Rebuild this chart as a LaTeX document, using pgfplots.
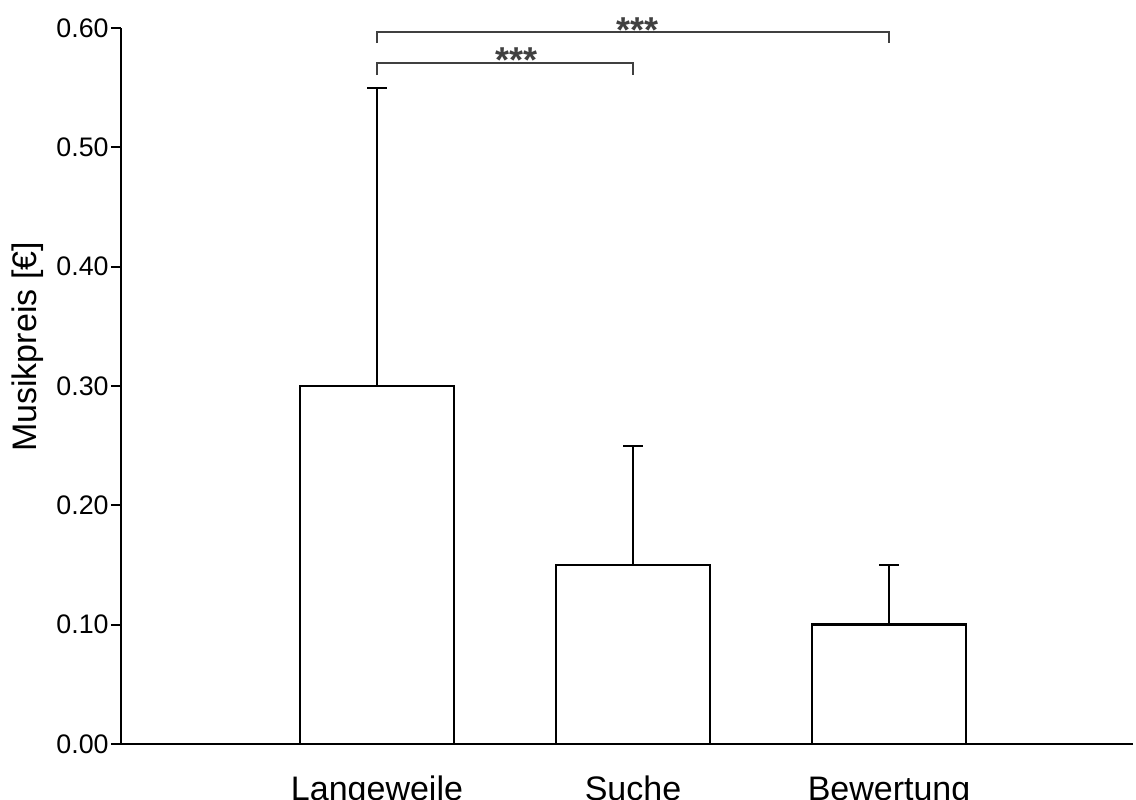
\documentclass[border=0pt]{standalone}
\usepackage{pgfplots}
\pgfplotsset{compat=1.18}
\usepackage{fontspec}
\setmainfont{Liberation Sans}
\definecolor{brk}{HTML}{404040}
\begin{document}
\begin{tikzpicture}
\begin{axis}[
  scale only axis,
  width=506pt, height=358pt,
  xmin=0, xmax=3.953,
  ymin=0, ymax=0.6,
  axis x line=bottom, axis y line=left,
  axis line style={-, line width=1.1pt, black},
  clip=false,
  xtick={1,2,3},
  xticklabels={Langeweile, Suche, Bewertung},
  x tick style={draw=none},
  xticklabel style={anchor=base, yshift=-23pt, font=\fontsize{17}{20}\selectfont},
  ytick={0,0.1,0.2,0.3,0.4,0.5,0.6},
  tick align=outside,
  major tick length=5pt,
  y tick style={line width=1pt, black},
  yticklabel style={font=\fontsize{13.4}{16}\selectfont, inner sep=1pt},
  /pgf/number format/.cd, fixed, fixed zerofill, precision=2, assume math mode=true,
  /pgfplots/.cd,
  ylabel={Musikpreis [€]},
  ylabel style={at={(axis description cs:-0.0919,0.5545)}, anchor=center, font=\fontsize{17}{20}\selectfont},
]
\addplot[ybar, bar width=77pt, draw=black, fill=white, line width=1.4pt,
  error bars/.cd, y dir=plus, y explicit,
  error mark=|,
  error bar style={line width=1pt, black},
  error mark options={line width=1pt, black, mark size=5pt}]
  table[x=x, y=y, y error=e] {
x y e
1 0.30 0.25
2 0.15 0.10
3 0.10 0.05
};
\addplot[brk, line width=0.9pt, mark=none] coordinates {(1,0.5606) (1,0.5707) (2,0.5707) (2,0.5606)};
\addplot[brk, line width=0.9pt, mark=none] coordinates {(1,0.5874) (1,0.5966) (3,0.5966) (3,0.5874)};
\node[anchor=base, yshift=-5pt, text=brk, font=\fontsize{18}{20}\selectfont\bfseries] at (axis cs:1.543,0.5707) {***};
\node[anchor=base, yshift=-5pt, text=brk, font=\fontsize{18}{20}\selectfont\bfseries] at (axis cs:2.016,0.5966) {***};
\coordinate (ll) at (rel axis cs:0,0);
\coordinate (ur) at (rel axis cs:1,1);
\end{axis}
\pgfresetboundingbox
\path ([xshift=-60.5pt,yshift=-27.5pt]ll) rectangle ([xshift=1.5pt,yshift=14pt]ur);
\end{tikzpicture}
\end{document}
